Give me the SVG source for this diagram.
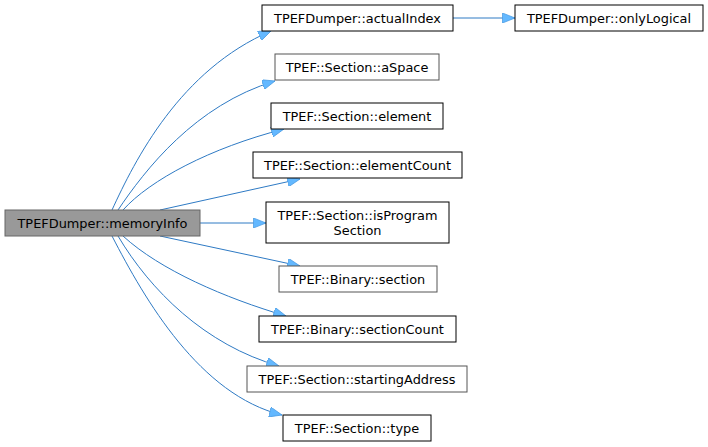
<svg xmlns="http://www.w3.org/2000/svg" width="708" height="447" viewBox="0 0 708 447">
<defs>
<style>
.n rect{fill:#ffffff;stroke:#000000;stroke-width:1}
.n.g rect{stroke:#555555}
.n.main rect{fill:#999999;stroke:#666666}
text{font-family:"DejaVu Sans","Liberation Sans",sans-serif;font-size:12.9px;fill:#000000;text-anchor:middle}
.e path{fill:none;stroke:#2e7ac4;stroke-width:1}
</style>
<marker id="ah" viewBox="0 0 10 8" refX="10" refY="4" markerWidth="13" markerHeight="10" markerUnits="userSpaceOnUse" orient="auto">
<path d="M0,0 L10,4 L0,8 Z" fill="#63b8ff" stroke="#4a9be3" stroke-width="0.6"/>
</marker>
</defs>
<rect width="708" height="447" fill="#ffffff"/>
<g id="edges" class="e">
<path d="M112,210 C135,160 180,70 271,31" marker-end="url(#ah)"/>
<path d="M118,210 C145,170 195,105 275,81" marker-end="url(#ah)"/>
<path d="M123,210 C150,180 210,148 284,129" marker-end="url(#ah)"/>
<path d="M160,210 L300,179" marker-end="url(#ah)"/>
<path d="M200,223 L266,223" marker-end="url(#ah)"/>
<path d="M160,236 L300,266" marker-end="url(#ah)"/>
<path d="M123,236 C160,270 225,298 286,316" marker-end="url(#ah)"/>
<path d="M118,236 C150,290 205,345 279,366" marker-end="url(#ah)"/>
<path d="M112,236 C145,300 200,395 282,415" marker-end="url(#ah)"/>
<path d="M453,18 L515,18" marker-end="url(#ah)"/>
</g>
<g id="memoryInfo" class="n main"><rect x="5" y="210" width="195" height="26"/><text x="102.5" y="227.5">TPEFDumper::memoryInfo</text></g>
<g id="actualIndex" class="n"><rect x="262" y="5" width="191" height="26"/><text x="357.5" y="22.5">TPEFDumper::actualIndex</text></g>
<g id="onlyLogical" class="n"><rect x="515" y="5" width="188" height="26"/><text x="609" y="22.5">TPEFDumper::onlyLogical</text></g>
<g id="aSpace" class="n g"><rect x="275" y="54" width="164" height="26"/><text x="357" y="71.5">TPEF::Section::aSpace</text></g>
<g id="element" class="n"><rect x="271" y="103" width="172" height="26"/><text x="357" y="120.5">TPEF::Section::element</text></g>
<g id="elementCount" class="n"><rect x="253" y="152" width="209" height="26"/><text x="357.5" y="169.5">TPEF::Section::elementCount</text></g>
<g id="isProgramSection" class="n"><rect x="266" y="202" width="183" height="41"/><text x="357.5" y="219.5">TPEF::Section::isProgram</text><text x="357.5" y="234.5">Section</text></g>
<g id="section" class="n g"><rect x="279" y="266" width="158" height="26"/><text x="358" y="283.5">TPEF::Binary::section</text></g>
<g id="sectionCount" class="n"><rect x="259" y="316" width="197" height="26"/><text x="357.5" y="333.5">TPEF::Binary::sectionCount</text></g>
<g id="startingAddress" class="n g"><rect x="247" y="366" width="220" height="26"/><text x="357" y="383.5">TPEF::Section::startingAddress</text></g>
<g id="type" class="n"><rect x="283" y="415" width="148" height="26"/><text x="357" y="432.5">TPEF::Section::type</text></g>
</svg>
